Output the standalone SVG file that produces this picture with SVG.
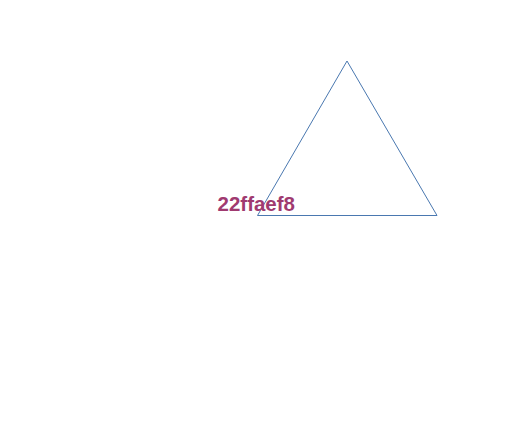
<svg xmlns="http://www.w3.org/2000/svg" width="511" height="430" viewBox="0 0 511 430">
<style>
.tri{fill:none;stroke:#4a78b0;stroke-width:1}
.lbl{font-family:"Liberation Sans",Arial,sans-serif;font-weight:bold;font-size:20.5px;fill:#a03a70}
</style>
<rect width="511" height="430" fill="#ffffff"/>
<g id="node-triangle">
<polygon class="tri" points="347,61 257.5,215.5 437,215.5"/>
</g>
<g id="connectors"></g>
<g id="label">
<text class="lbl" x="217.5" y="211">22ffaef8</text>
</g>
</svg>
